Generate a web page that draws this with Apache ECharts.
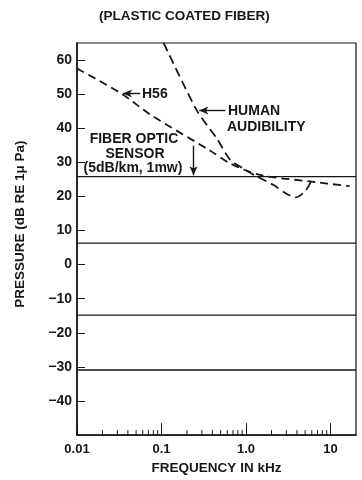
<!DOCTYPE html>
<html>
<head>
<meta charset="utf-8">
<script src="https://cdn.jsdelivr.net/npm/echarts@6/dist/echarts.min.js"></script>
<style>html,body{margin:0;padding:0;background:#fff;}#c{width:362px;height:480px;}</style>
</head>
<body>
<div id="c"></div>
<script>
// ---- data ----
const h56Freq   = [0.01, 0.0343, 0.0737, 0.378, 0.646, 1.46, 5.68, 16.8];
const h56Level  = [57.5, 50.0, 44.0, 33.4, 29.7, 26.3, 24.4, 23.0];
const audFreq   = [0.106, 0.263, 0.454, 0.646, 0.95, 1.35, 2.1, 3.0, 3.83, 5.0, 6.0];
const audLevel  = [65.0, 45.1, 36.9, 30.8, 28.0, 25.8, 23.4, 20.8, 19.7, 21.5, 24.8];
const rangeNames  = ['1m', '10m', '100m', '1000m'];
const rangeLevels = [25.8, 6.3, -14.8, -30.9];
const rangeLabelFreq = 10;
const xTickLabels = {0.01: '0.01', 0.1: '0.1', 1: '1.0', 10: '10'};
const minorTicks = [0.02,0.03,0.04,0.05,0.06,0.07,0.08,0.09,0.2,0.3,0.4,0.5,0.6,0.7,0.8,0.9,2,3,4,5,6,7,8,9];
const xMin = 0.01, xMax = 20, yMin = -50, yMax = 65;
// annotation arrows: [fromFreq, fromLevel, toFreq, toLevel]
const arrowH56 = [0.056, 50.2, 0.035, 50.2];
const arrowAud = [0.569, 45.2, 0.28, 45.2];
const arrowSensor = [0.239, 34.9, 0.239, 26.2];

const FONT = '"Liberation Sans", Arial, Helvetica, sans-serif';
const INK = '#161616';

const chart = echarts.init(document.getElementById('c'), null, {renderer: 'canvas'});

function pairs(xs, ys) { return xs.map((x, i) => [x, ys[i]]); }

const rangeSeries = rangeNames.map((name, i) => ({
  type: 'line', name: name, silent: true, symbol: 'none', z: 3,
  lineStyle: {color: INK, width: 1.4},
  data: [
    [xMin, rangeLevels[i]],
    {value: [rangeLabelFreq, rangeLevels[i]], symbol: 'none',
     label: {show: true, position: 'top', align: 'right', distance: 1, formatter: name,
             color: INK, fontSize: 13.5, fontWeight: 'bold', fontFamily: FONT}},
    [xMax, rangeLevels[i]]
  ]
}));

function arrow(a) {
  return [{coord: [a[0], a[1]]}, {coord: [a[2], a[3]]}];
}

const option = {
  animation: false,
  backgroundColor: '#fff',
  title: {
    text: '(PLASTIC COATED FIBER)', left: 94, top: 4,
    textStyle: {fontSize: 13.5, fontWeight: 'bold', color: INK, fontFamily: FONT}
  },
  grid: {left: 77, right: 6, top: 43, bottom: 40, show: true, borderColor: INK, borderWidth: 1.2},
  xAxis: {
    type: 'log', logBase: 10, min: xMin, max: xMax,
    name: 'FREQUENCY IN kHz', nameLocation: 'middle', nameGap: 23,
    nameTextStyle: {fontSize: 13.5, fontWeight: 'bold', color: INK, fontFamily: FONT},
    axisLine: {show: true, onZero: false, lineStyle: {color: INK, width: 1.6}},
    axisTick: {show: true, inside: true, length: 12, lineStyle: {color: INK, width: 1}},
    minorTick: {show: false},
    splitLine: {show: false},
    axisLabel: {
      show: true, margin: 8, showMaxLabel: false, color: INK, fontSize: 13, fontWeight: 'bold', fontFamily: FONT,
      formatter: v => { for (const k in xTickLabels) { if (Math.abs(Math.log10(v) - Math.log10(+k)) < 1e-6) return xTickLabels[k]; } return ''; }
    }
  },
  yAxis: {
    type: 'value', min: yMin, max: yMax, interval: 10,
    name: 'PRESSURE (dB RE 1\u03bc Pa)', nameLocation: 'middle', nameGap: 50, nameRotate: 90,
    nameTextStyle: {fontSize: 13.5, fontWeight: 'bold', color: INK, fontFamily: FONT, padding: [0, 0, 0, 30]},
    axisLine: {show: true, onZero: false, lineStyle: {color: INK, width: 1.6}},
    axisTick: {show: true, inside: true, length: 8, lineStyle: {color: INK, width: 1}},
    splitLine: {show: false},
    axisLabel: {
      show: true, margin: 5, showMinLabel: false, showMaxLabel: false,
      color: INK, fontSize: 14, fontWeight: 'bold', fontFamily: FONT,
      formatter: v => (v < 0 ? '\u2212' + Math.abs(v) : String(v))
    }
  },
  graphic: [
    {type: 'text', left: 142, top: 87, style: {text: 'H56', font: 'bold 14px ' + FONT, fill: INK}},
    {type: 'text', left: 228, top: 104, style: {text: 'HUMAN', font: 'bold 14px ' + FONT, fill: INK}},
    {type: 'text', left: 227, top: 120, style: {text: 'AUDIBILITY', font: 'bold 14px ' + FONT, fill: INK}},
    {type: 'text', x: 134, y: 139, style: {text: 'FIBER OPTIC', font: 'bold 14px ' + FONT, fill: INK, align: 'center', verticalAlign: 'middle'}},
    {type: 'text', x: 135, y: 154, style: {text: 'SENSOR', font: 'bold 14px ' + FONT, fill: INK, align: 'center', verticalAlign: 'middle'}},
    {type: 'text', x: 133, y: 168, style: {text: '(5dB/km, 1mw)', font: 'bold 14px ' + FONT, fill: INK, align: 'center', verticalAlign: 'middle'}}
  ],
  series: [
    {
      type: 'line', name: 'H56', silent: true, symbol: 'none', smooth: 0.3, z: 4,
      lineStyle: {color: INK, width: 1.8, type: [8, 5]},
      data: pairs(h56Freq, h56Level),
      markLine: {
        silent: true, symbol: ['none', 'arrow'], symbolSize: [6, 9],
        lineStyle: {color: INK, width: 1.4, type: 'solid'}, label: {show: false},
        data: [arrow(arrowH56), arrow(arrowAud), arrow(arrowSensor)]
      }
    },
    {
      type: 'line', name: 'HUMAN AUDIBILITY', silent: true, symbol: 'none', smooth: 0.25, z: 4,
      lineStyle: {color: INK, width: 1.8, type: [9, 5]},
      data: pairs(audFreq, audLevel)
    },
    ...rangeSeries,
    {
      type: 'custom', silent: true, z: 5, clip: false,
      data: minorTicks.map(v => [v, yMin]),
      renderItem: (params, api) => {
        const p = api.coord([api.value(0), api.value(1)]);
        return {type: 'line', shape: {x1: p[0], y1: p[1], x2: p[0], y2: p[1] - 5},
                style: {stroke: INK, lineWidth: 1}};
      }
    }
  ]
};
chart.setOption(option);
</script>
</body>
</html>
